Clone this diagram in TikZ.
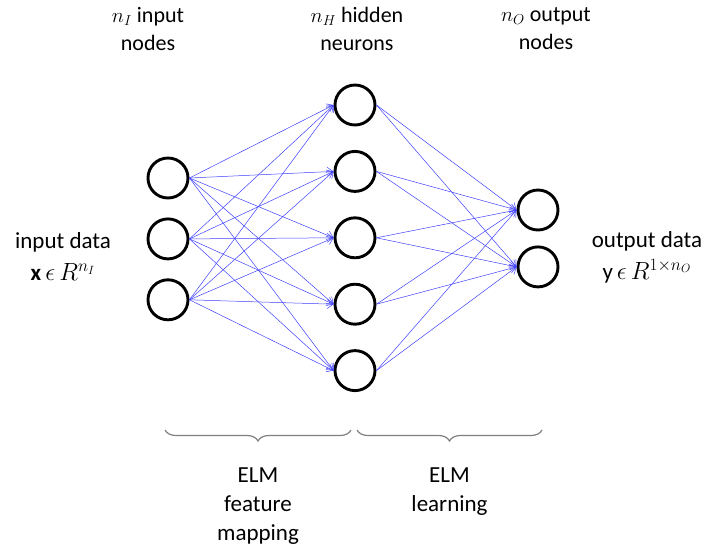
\documentclass[tikz,border=0pt]{standalone}
\usepackage{fontspec}
\setmainfont{Carlito}
\usepackage{tikz}
\usetikzlibrary{positioning,arrows.meta,decorations.pathreplacing}

\begin{document}
\begin{tikzpicture}[x=1pt, y=-1pt, font=\fontsize{23}{29}\selectfont,
		neuron/.style={circle, draw, line width=2.9pt, minimum size=40pt, inner sep=0pt},
		link/.style={blue!75, line width=0.5pt, -{Straight Barb[length=6pt, width=9pt]}},
		lab/.style={align=center, inner sep=0pt},
		grp/.style={draw=gray, line width=1.2pt, decorate, decoration={brace, mirror, amplitude=11pt}}]
		\useasboundingbox (0,0) rectangle (707,558);
		% input layer
		\node[neuron] (in1) at (168,178) {};
		\node[neuron, below=18pt of in1] (in2) {};
		\node[neuron, below=18pt of in2] (in3) {};
		% hidden layer
		\node[neuron] (hid1) at (355,105) {};
		\node[neuron, below=23.5pt of hid1] (hid2) {};
		\node[neuron, below=23.5pt of hid2] (hid3) {};
		\node[neuron, below=23.5pt of hid3] (hid4) {};
		\node[neuron, below=23.5pt of hid4] (hid5) {};
		% output layer
		\node[neuron] (out1) at (538,210) {};
		\node[neuron, below=14pt of out1] (out2) {};
		% connections
		\foreach \i in {1,2,3}
			\foreach \h in {1,...,5}
				\draw[link] (in\i.east) -- (hid\h.west);
		\foreach \h in {1,...,5}
			\foreach \o in {1,2}
				\draw[link] (hid\h.east) -- (out\o.west);
		% labels
		\node[lab, font=\fontsize{22}{28}\selectfont] (lblin) at (148,29) {$n_I$ input\\nodes};
		\node[lab, font=\fontsize{22}{28}\selectfont] (lblhid) at (357,29) {$n_H$ hidden\\neurons};
		\node[lab, font=\fontsize{22}{28}\selectfont] (lblout) at (546,29) {$n_O$ output\\nodes};
		\node[lab, font=\fontsize{23}{32}\selectfont] (xdata) at (63,257) {input data\\$\mathbf{x}\,\epsilon\, R^{n_I}$};
		\node[lab, font=\fontsize{23}{32}\selectfont] (ydata) at (647,257) {output data\\y\,$\epsilon\, R^{1\times n_O}$};
		% braces
		\coordinate (fmL) at (165,430);
		\coordinate (fmR) at (351,430);
		\coordinate (lnL) at (357,430);
		\coordinate (lnR) at (542,430);
		\draw[grp] (fmL) -- (fmR) coordinate[midway, yshift=-22pt] (fmtip);
		\draw[grp] (lnL) -- (lnR) coordinate[midway, yshift=-22pt] (lntip);
		\node[lab, below=16pt of fmtip] (fmtext) {ELM\\feature\\mapping};
		\node[lab, below=16pt of lntip] (lntext) {ELM\\learning};
	\end{tikzpicture}
\end{document}
